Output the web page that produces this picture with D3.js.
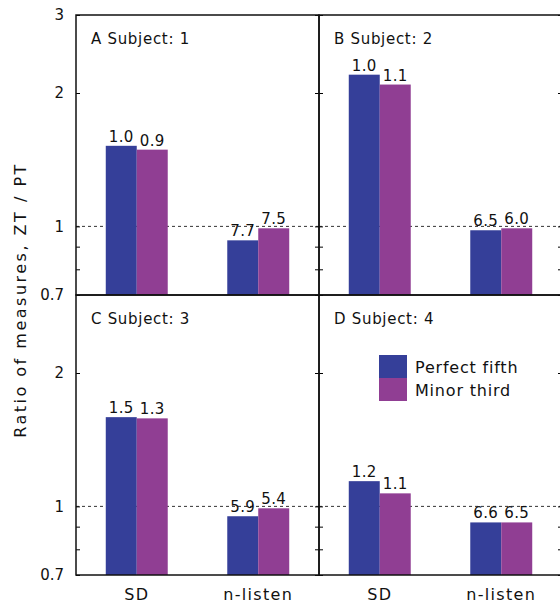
<!DOCTYPE html>
<html>
<head>
<meta charset="utf-8">
<script src="https://cdn.jsdelivr.net/npm/d3@7"></script>
<style>
  body { margin: 0; background: #fff; }
  text { font-family: "DejaVu Sans", sans-serif; fill: #111; }
</style>
</head>
<body>
<div id="chart"></div>
<script>
const width = 560;
const height = 606;

// data
const categories = ['SD', 'n-listen'];
const seriesNames = ['Perfect fifth', 'Minor third'];
const panelTitles = ['A Subject: 1', 'B Subject: 2', 'C Subject: 3', 'D Subject: 4'];
const perfectFifth = [[1.52, 0.93], [2.20, 0.98], [1.59, 0.95], [1.14, 0.92]];
const minorThird = [[1.49, 0.99], [2.09, 0.99], [1.58, 0.99], [1.07, 0.92]];
const perfectFifthLabels = [['1.0', '7.7'], ['1.0', '6.5'], ['1.5', '5.9'], ['1.2', '6.6']];
const minorThirdLabels = [['0.9', '7.5'], ['1.1', '6.0'], ['1.3', '5.4'], ['1.1', '6.5']];
const majorTicks = [0.7, 1, 2, 3];
const minorTicks = [0.8, 0.9];

const colors = ['#353f99', '#903e93'];

const marginLeft = 76, marginTop = 15, pw = 243, ph = 280;

const svg = d3.select('#chart')
  .append('svg')
  .attr('width', width)
  .attr('height', height);

const y = d3.scaleLog()
  .domain([0.7, 3])
  .range([ph, 0]);

const x0 = d3.scaleBand()
  .domain(categories)
  .range([0, pw])
  .paddingInner(0.49)
  .paddingOuter(0.245);

const x1 = d3.scaleBand()
  .domain(seriesNames)
  .range([0, x0.bandwidth()]);

const color = d3.scaleOrdinal()
  .domain(seriesNames)
  .range(colors);

panelTitles.forEach((title, p) => {
  const col = p % 2, row = Math.floor(p / 2);
  const g = svg.append('g')
    .attr('transform', `translate(${marginLeft + col * pw}, ${marginTop + row * ph})`);

  // reference line at 1
  g.append('line')
    .attr('x1', 0).attr('x2', pw)
    .attr('y1', y(1)).attr('y2', y(1))
    .attr('stroke', '#333')
    .attr('stroke-width', 1)
    .attr('stroke-dasharray', '3,3');

  const rows = categories.map((c, i) => ({
    cat: c,
    vals: [
      {s: seriesNames[0], v: perfectFifth[p][i], label: perfectFifthLabels[p][i]},
      {s: seriesNames[1], v: minorThird[p][i], label: minorThirdLabels[p][i]}
    ]
  }));

  const groups = g.selectAll('g.cat')
    .data(rows)
    .enter()
    .append('g')
    .attr('transform', d => `translate(${x0(d.cat)}, 0)`);

  groups.selectAll('rect')
    .data(d => d.vals)
    .enter()
    .append('rect')
    .attr('x', d => x1(d.s))
    .attr('y', d => y(d.v))
    .attr('width', x1.bandwidth())
    .attr('height', d => ph - y(d.v))
    .style('fill', d => color(d.s));

  groups.selectAll('text')
    .data(d => d.vals)
    .enter()
    .append('text')
    .attr('x', d => x1(d.s) + x1.bandwidth() / 2)
    .attr('y', d => y(d.v) - 4)
    .attr('text-anchor', 'middle')
    .style('font-size', '15px')
    .style('letter-spacing', '0.4px')
    .text(d => d.label);

  // ticks on both sides, pointing in
  const leftAxis = d3.axisRight(y)
    .tickValues(majorTicks.concat(minorTicks))
    .tickSize(4)
    .tickFormat('');
  g.append('g').call(leftAxis)
    .call(a => a.select('.domain').remove());
  const rightAxis = d3.axisLeft(y)
    .tickValues(majorTicks.concat(minorTicks))
    .tickSize(4)
    .tickFormat('');
  g.append('g').attr('transform', `translate(${pw}, 0)`).call(rightAxis)
    .call(a => a.select('.domain').remove());

  if (col === 0) {
    const labelAxis = d3.axisLeft(y)
      .tickValues(row === 0 ? majorTicks : majorTicks.slice(0, 3))
      .tickSize(0)
      .tickPadding(12)
      .tickFormat(d3.format('~g'));
    g.append('g').call(labelAxis)
      .call(a => a.select('.domain').remove())
      .call(a => a.selectAll('text').style('font-size', '15px').style('font-family', '"DejaVu Sans", sans-serif').attr('fill', '#111'));
  }

  if (row === 1) {
    g.selectAll('text.cat')
      .data(categories)
      .enter()
      .append('text')
      .attr('class', 'cat')
      .attr('x', d => x0(d) + x0.bandwidth() / 2)
      .attr('y', ph + 25)
      .attr('text-anchor', 'middle')
      .style('font-size', '16px')
      .style('letter-spacing', '1.3px')
      .text(d => d);
  }

  g.append('text')
    .attr('x', 15)
    .attr('y', 29)
    .style('font-size', '15px')
    .style('letter-spacing', '0.7px')
    .text(title);

  g.append('rect')
    .attr('width', pw).attr('height', ph)
    .attr('fill', 'none')
    .attr('stroke', '#111')
    .attr('stroke-width', 1.5);

  if (p === 3) {
    const leg = g.append('g').attr('transform', 'translate(60, 60)');
    seriesNames.forEach((s, i) => {
      leg.append('rect')
        .attr('x', 0).attr('y', i * 23)
        .attr('width', 28).attr('height', 23)
        .style('fill', color(s));
      leg.append('text')
        .attr('x', 36).attr('y', i * 23 + 12)
        .attr('dy', '0.35em')
        .style('font-size', '16px')
        .style('letter-spacing', '0.8px')
        .text(s);
    });
  }
});

svg.append('text')
  .attr('transform', `translate(20, 300) rotate(-90)`)
  .attr('text-anchor', 'middle')
  .attr('dy', '0.35em')
  .style('font-size', '16px')
  .style('letter-spacing', '2.5px')
  .text('Ratio of measures, ZT / PT');
</script>
</body>
</html>
